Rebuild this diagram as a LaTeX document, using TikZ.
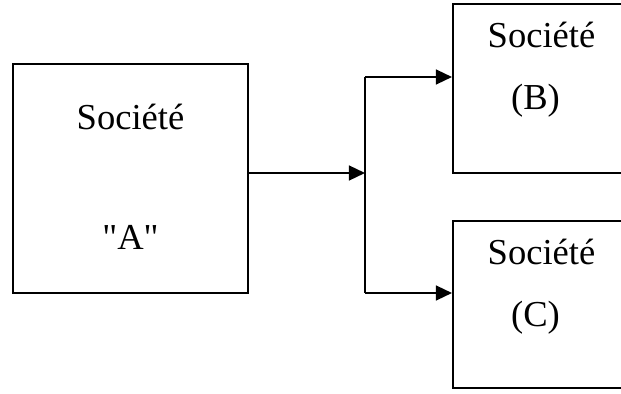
\documentclass[tikz,border=0pt]{standalone}
\usepackage{fontspec}
\setmainfont{Liberation Serif}[Ligatures=TeXOff]
\usepackage{tikz}
\usetikzlibrary{arrows.meta,positioning,calc}
\tikzset{
  boite/.style={draw,line width=1.4pt,inner sep=0pt},
  lbl/.style={anchor=base,inner sep=0pt,font=\fontsize{26}{31}\selectfont},
  fleche/.style={line width=1.4pt,-{Triangle[length=0.4cm,width=0.37cm]}}
}
\begin{document}
\begin{tikzpicture}[x=0.025cm,y=-0.025cm]
    \useasboundingbox (0,0) rectangle (621,394);
    \clip (0,0) rectangle (621,394);
	  % boites
	  \node[boite,minimum width=5.875cm,minimum height=5.725cm] (a) at (130.5,178.5) {};
	  \node[boite,minimum width=5cm,minimum height=4.225cm] (b) at (553,88.5) {};
	  \node[boite,minimum width=5cm,minimum height=4.175cm] (c) at (553,304.5) {};
	  % textes
	  \node[lbl] (a1) at (130.5,130) {Société};
	  \node[lbl] (a2) at (130.5,250) {"A"};
	  \node[lbl] (b1) at (541.5,48) {Société};
	  \node[lbl] (b2) at (535.5,110) {(B)};
	  \node[lbl] (c1) at (541.5,265) {Société};
	  \node[lbl] (c2) at (535.5,327) {(C)};
	  % fleches
	  \coordinate (j) at (365,173);
	  \coordinate (jb) at (365,77);
	  \coordinate (jc) at (365,293);
	  \draw[fleche] (j -| a.east) -- (j);
	  \draw[line width=1.4pt] (jb) -- (jc);
	  \draw[fleche] (jb) -- (jb -| b.west);
	  \draw[fleche] (jc) -- (jc -| c.west);
\end{tikzpicture}
\end{document}
